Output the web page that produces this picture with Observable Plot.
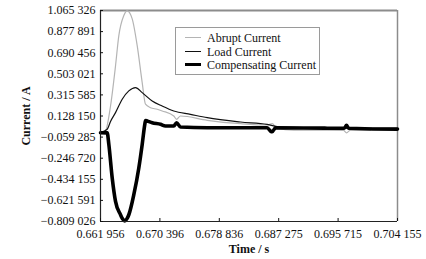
<!DOCTYPE html>
<html><head><meta charset="utf-8">
<script src="https://cdn.jsdelivr.net/npm/d3@7"></script>
<script src="https://cdn.jsdelivr.net/npm/@observablehq/plot@0.6"></script>
<style>
body{margin:0;background:#fff;}
#wrap{position:relative;width:426px;height:259px;font-family:"Liberation Serif","Times New Roman",serif !important;}
#wrap svg, #wrap svg text, #wrap svg g{font-family:"Liberation Serif","Times New Roman",serif !important;}
#wrap svg [aria-label="y-axis label"], #wrap svg [aria-label="x-axis label"]{font-weight:bold;font-size:12px;}
#legend{position:absolute;left:175px;top:27px;width:145px;height:48px;border:1px solid #9a9a9a;box-sizing:border-box;background:#fff;font-size:12px;color:#111;font-family:"Liberation Serif","Times New Roman",serif !important;}
.row{position:absolute;left:0;height:14px;width:140px;}
.swatch{position:absolute;left:9px;width:16px;top:7px;}
.lbl{position:absolute;left:31px;top:0;line-height:14px;white-space:nowrap;}
</style>
</head><body>
<div id="wrap"></div>
<script>
// axis domains and ticks
const xDomain = [0.661956, 0.704155];
const yDomain = [-0.809026, 1.065326];
const xTicks = [0.661956, 0.670396, 0.678836, 0.687275, 0.695715, 0.704155];
const xTickLabels = ["0.661 956", "0.670 396", "0.678 836", "0.687 275", "0.695 715", "0.704 155"];
const yTicks = [-0.809026, -0.621591, -0.434155, -0.246720, -0.059285, 0.128150, 0.315585, 0.503021, 0.690456, 0.877891, 1.065326];
const yTickLabels = ["\u22120.809 026", "\u22120.621 591", "\u22120.434 155", "\u22120.246 720", "\u22120.059 285", "0.128 150", "0.315 585", "0.503 021", "0.690 456", "0.877 891", "1.065 326"];

// series names
const seriesNames = ["Abrupt Current", "Load Current", "Compensating Current"];

// Abrupt current
const abruptT = [0.66196, 0.66238, 0.66267, 0.66338, 0.66409, 0.66456, 0.66527, 0.66575, 0.66646, 0.66717, 0.66788, 0.66835, 0.66906, 0.67001, 0.67072, 0.67237, 0.67276, 0.67332, 0.67712, 0.68185, 0.68564, 0.68635, 0.68697, 0.68942, 0.69417, 0.69649, 0.69691, 0.69748, 0.70032];
const abruptV = [-0.020, -0.018, -0.006, 0.217, 0.574, 0.842, 1.021, 1.062, 0.991, 0.753, 0.425, 0.233, 0.202, 0.188, 0.173, 0.128, 0.099, 0.128, 0.090, 0.060, 0.048, 0.060, 0.021, 0.003, 0.003, 0.000, -0.021, 0.003, 0.003];

// Load current
const loadT = [0.66196, 0.66291, 0.66338, 0.66409, 0.66504, 0.66598, 0.66693, 0.66788, 0.66930, 0.67072, 0.67237, 0.67474, 0.67712, 0.68185, 0.68564, 0.68753, 0.704155];
const loadV = [-0.018, 0.010, 0.080, 0.158, 0.277, 0.351, 0.381, 0.336, 0.262, 0.217, 0.173, 0.143, 0.113, 0.075, 0.054, 0.030, 0.018];

// Compensating current
const compT = [0.66196, 0.66291, 0.66314, 0.66362, 0.66409, 0.66480, 0.66508, 0.66541, 0.66570, 0.66598, 0.66669, 0.66740, 0.66788, 0.66825, 0.66835, 0.66859, 0.66930, 0.67048, 0.67119, 0.67237, 0.67276, 0.67332, 0.67712, 0.68185, 0.68564, 0.68611, 0.68635, 0.68682, 0.69417, 0.69660, 0.69691, 0.69720, 0.70411, 0.704155];
const compV = [-0.020, -0.022, -0.124, -0.422, -0.630, -0.749, -0.785, -0.805, -0.786, -0.749, -0.570, -0.333, -0.124, 0.054, 0.088, 0.084, 0.068, 0.054, 0.039, 0.039, 0.068, 0.030, 0.024, 0.024, 0.024, -0.006, -0.012, 0.024, 0.020, 0.020, 0.045, 0.020, 0.012, 0.012];

const toRows = (T, V) => T.map((t, i) => ({t, v: V[i]}));
const abrupt = toRows(abruptT, abruptV);
const load = toRows(loadT, loadV);
const comp = toRows(compT, compV);

const styles = [
  {stroke: "#b4b4b4", strokeWidth: 1.2},
  {stroke: "#111", strokeWidth: 1.2},
  {stroke: "#000", strokeWidth: 3.6}
];

const chart = Plot.plot({
  width: 426, height: 259,
  marginLeft: 100, marginRight: 29, marginTop: 10, marginBottom: 38,
  style: {fontSize: "12px", color: "#111", background: "#fff"},
  x: {domain: xDomain},
  y: {domain: yDomain},
  marks: [
    Plot.ruleX([xDomain[1]], {stroke: "#8c8c8c", strokeWidth: 1.5}),
    Plot.ruleY([yDomain[1]], {stroke: "#8c8c8c", strokeWidth: 2}),
    Plot.line(abrupt, {x: "t", y: "v", curve: "monotone-x", ...styles[0]}),
    Plot.line(load, {x: "t", y: "v", curve: "monotone-x", ...styles[1]}),
    Plot.line(comp, {x: "t", y: "v", curve: "monotone-x", strokeLinejoin: "round", strokeLinecap: "round", ...styles[2]}),
    Plot.ruleX([xDomain[0]], {stroke: "#222", strokeWidth: 1.2}),
    Plot.ruleY([yDomain[0]], {stroke: "#222", strokeWidth: 1.2}),
    Plot.axisY({ticks: yTicks, tickFormat: d => yTickLabels[yTicks.indexOf(d)], tickSize: 3, dx: 3, tickPadding: 5, fontSize: 12, label: "Current / A", labelAnchor: "center", labelArrow: "none", labelOffset: 79}),
    Plot.axisX({ticks: xTicks, tickFormat: d => xTickLabels[xTicks.indexOf(d)], tickSize: 3, dy: -3, tickPadding: 8, fontSize: 12, label: "Time / s", labelAnchor: "center", labelArrow: "none", labelOffset: 31})
  ]
});
const wrap = document.getElementById("wrap");
wrap.appendChild(chart);

// legend
const legend = document.createElement("div");
legend.id = "legend";
seriesNames.forEach((name, i) => {
  const row = document.createElement("div");
  row.className = "row";
  row.style.top = (3 + i * 13.5) + "px";
  const sw = document.createElement("div");
  sw.className = "swatch";
  sw.style.borderTop = styles[i].strokeWidth + "px solid " + styles[i].stroke;
  sw.style.marginTop = (-styles[i].strokeWidth / 2) + "px";
  const lb = document.createElement("div");
  lb.className = "lbl";
  lb.textContent = name;
  row.appendChild(sw); row.appendChild(lb);
  legend.appendChild(row);
});
wrap.appendChild(legend);
</script>
</body></html>
